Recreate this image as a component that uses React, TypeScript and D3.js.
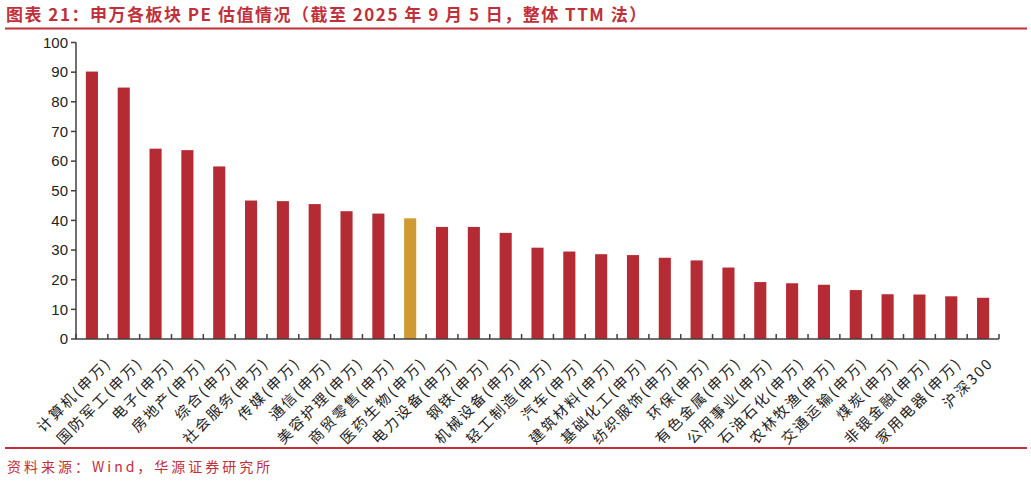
import React from "react";
import * as d3 from "d3";

const categories = [
  "计算机(申万)", "国防军工(申万)", "电子(申万)", "房地产(申万)", "综合(申万)",
  "社会服务(申万)", "传媒(申万)", "通信(申万)", "美容护理(申万)", "商贸零售(申万)",
  "医药生物(申万)", "电力设备(申万)", "钢铁(申万)", "机械设备(申万)", "轻工制造(申万)",
  "汽车(申万)", "建筑材料(申万)", "基础化工(申万)", "纺织服饰(申万)", "环保(申万)",
  "有色金属(申万)", "公用事业(申万)", "石油石化(申万)", "农林牧渔(申万)", "交通运输(申万)",
  "煤炭(申万)", "非银金融(申万)", "家用电器(申万)", "沪深300",
];
const peValues = [
  90.2, 84.8, 64.2, 63.7, 58.2, 46.7, 46.5, 45.5, 43.1, 42.3,
  40.7, 37.8, 37.8, 35.8, 30.8, 29.5, 28.6, 28.3, 27.4, 26.5,
  24.1, 19.2, 18.8, 18.3, 16.5, 15.1, 15.0, 14.4, 13.9,
];
const highlight = "医药生物(申万)";
const yTicks = [0, 10, 20, 30, 40, 50, 60, 70, 80, 90, 100];
const title = "图表 21：申万各板块 PE 估值情况（截至 2025 年 9 月 5 日，整体 TTM 法）";
const source = "资料来源：Wind，华源证券研究所";

const W = 1031;
const H = 482;
const left = 76;
const right = 999;
const top = 42.5;
const bottom = 339;

export default function App() {
  const x = d3.scaleBand<string>().domain(categories).range([left, right]).paddingInner(0.62).paddingOuter(0.31);
  const y = d3.scaleLinear().domain([0, 100]).range([bottom, top]);
  const step = x.step();
  const labelX = d3.scalePoint<string>().domain(categories).range([left + step / 2 + 20.4, right - step / 2 + 11.3]);
  const axisColor = "#404040";
  const red = "#b52b33";
  const gold = "#cf9a32";
  const titleRed = "#c0303a";

  return (
    <svg width={W} height={H} style={{ position: "absolute", left: 0, top: 0, background: "#fff" }}>
      <text
        x={6}
        y={21}
        fontFamily="'Noto Sans CJK SC', sans-serif"
        fontWeight={700}
        fontSize={17}
        letterSpacing={1.5}
        fill={titleRed}
      >
        {title}
      </text>
      <line x1={5} x2={1027} y1={28.5} y2={28.5} stroke={titleRed} strokeWidth={2} />

      {categories.map((c, i) => (
        <rect
          key={c}
          x={x(c)!}
          y={y(peValues[i])}
          width={x.bandwidth()}
          height={bottom - y(peValues[i])}
          fill={c === highlight ? gold : red}
        />
      ))}

      {/* y axis */}
      <line x1={left} x2={left} y1={top} y2={bottom} stroke={axisColor} strokeWidth={1.5} />
      {yTicks.map((t) => (
        <g key={t}>
          <line x1={left - 5} x2={left} y1={y(t)} y2={y(t)} stroke={axisColor} strokeWidth={1.5} />
          <text
            x={left - 8}
            y={y(t)}
            dy="0.35em"
            textAnchor="end"
            fontFamily="'Liberation Sans', Arial, sans-serif"
            fontSize={15}
            fill="#222"
          >
            {t}
          </text>
        </g>
      ))}

      {/* x axis */}
      <line x1={left} x2={right} y1={bottom} y2={bottom} stroke={axisColor} strokeWidth={1.5} />
      {d3.range(categories.length + 1).map((i) => (
        <line
          key={i}
          x1={left + i * step}
          x2={left + i * step}
          y1={bottom}
          y2={bottom - 5}
          stroke={axisColor}
          strokeWidth={1.5}
        />
      ))}
      {categories.map((c) => {
        const cx = labelX(c)!;
        const cy = bottom + 25;
        return (
          <text
            key={c}
            x={cx}
            y={cy}
            textAnchor="end"
            transform={`rotate(-45, ${cx}, ${cy})`}
            fontFamily="'Noto Sans CJK SC', sans-serif"
            fontSize={14.5}
            letterSpacing={2.2}
            fill="#222"
          >
            {c}
          </text>
        );
      })}

      <line x1={5} x2={1027} y1={448} y2={448} stroke={titleRed} strokeWidth={2} />
      <text
        x={7}
        y={472}
        fontFamily="'Noto Sans CJK SC', sans-serif"
        fontSize={14}
        letterSpacing={3}
        fill={titleRed}
      >
        {source}
      </text>
    </svg>
  );
}
